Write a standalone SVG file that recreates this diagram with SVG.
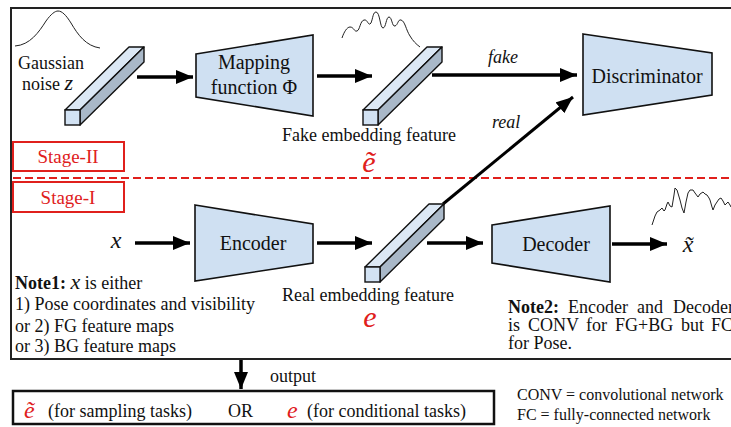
<svg xmlns="http://www.w3.org/2000/svg" xmlns:xlink="http://www.w3.org/1999/xlink" width="731" height="427" viewBox="0 0 731 427" font-family="'Liberation Serif', 'Times New Roman', serif">
<style>
.f{font-family:'Liberation Serif','Times New Roman',serif;fill:#111}
.t18{font-size:18px}
.t19{font-size:19px}
.t20{font-size:20px}
.t16{font-size:16px}
.it{font-style:italic}
.red{fill:#e0201c}
.trap{fill:#cfe0f2;stroke:#111;stroke-width:1.6}
.arr{stroke:#000;stroke-width:3.5;fill:none;marker-end:url(#ah)}
.stage{fill:none;stroke:#e0201c;stroke-width:2}
.wig{fill:none;stroke:#222;stroke-width:1}
</style>
<defs>
<marker id="ah" markerUnits="userSpaceOnUse" markerWidth="17" markerHeight="14" refX="17" refY="7" orient="auto">
<path d="M0,0 L17,7 L0,14 z" fill="#000"/>
</marker>
<g id="bar">
<polygon points="0,0 64,-63 79,-63 15,0" fill="#dce8f5" stroke="#111" stroke-width="1.4" stroke-linejoin="round"/>
<polygon points="15,0 79,-63 79,-48 15,15" fill="#a9b8c8" stroke="#111" stroke-width="1.4" stroke-linejoin="round"/>
<rect x="0" y="0" width="15" height="15" fill="#d2e2f3" stroke="#111" stroke-width="1.4"/>
</g>
</defs>
<rect width="731" height="427" fill="#fff"/>

<!-- outer frame -->
<path d="M731,8 H11 V359 H731" fill="none" stroke="#222" stroke-width="2"/>

<!-- stage separators -->
<g id="stages">
<rect class="stage" x="13" y="142" width="111" height="29"/>
<text class="f t19 red" x="68" y="163" text-anchor="middle">Stage-II</text>
<line x1="13" y1="178" x2="731" y2="178" stroke="#e0201c" stroke-width="2" stroke-dasharray="8,4"/>
<rect class="stage" x="13" y="182" width="111" height="30"/>
<text class="f t19 red" x="68" y="204" text-anchor="middle">Stage-I</text>
</g>

<!-- connectors -->
<g id="connectors">
<line class="arr" x1="137" y1="77" x2="193" y2="77"/>
<line class="arr" x1="317" y1="76" x2="372" y2="76"/>
<line class="arr" x1="432" y1="75" x2="577" y2="75"/>
<line class="arr" x1="443" y1="204" x2="573" y2="97" style="stroke-width:3"/>
<line class="arr" x1="135" y1="243" x2="190" y2="243"/>
<line class="arr" x1="317" y1="243" x2="372" y2="243"/>
<line class="arr" x1="427" y1="243" x2="483" y2="243"/>
<line class="arr" x1="612" y1="244" x2="667" y2="244"/>
<line class="arr" x1="241" y1="360" x2="241" y2="389"/>
<text class="f t18 it" x="488" y="63">fake</text>
<text class="f t18 it" x="492" y="128">real</text>
<text class="f t18" x="270" y="382">output</text>
</g>

<!-- noise input -->
<g id="noise">
<path class="wig" d="M15,46 C30,45 39,32 46,21 C51,14 55,11 58,11 C62,11 66,15 71,23 C78,35 86,46 100,48"/>
<text class="f t18" x="18" y="69">Gaussian</text>
<text class="f t18" x="22" y="90">noise <tspan class="it" style="font-size:22px">z</tspan></text>
<use xlink:href="#bar" x="65" y="110"/>
</g>

<g id="mapping">
<polygon class="trap" points="196,54 313,35 313,116 196,97"/>
<text class="f t20" x="254" y="69" text-anchor="middle">Mapping</text>
<text class="f t20" x="254" y="94" text-anchor="middle">function Φ</text>
</g>

<g id="fake-embedding">
<path class="wig" d="M342,38 C344,32 347,27 350,27 C354,27 354,32 357,31 C360,30 360,21 364,20 C368,19 368,27 371,23 C373,18 373,12 376,12 C380,12 380,28 383,28 C386,28 386,17 389,17 C392,17 392,27 395,26 C398,25 398,19 401,20 C405,21 406,30 410,36 C413,41 416,44 420,47"/>
<use xlink:href="#bar" x="363" y="110"/>
<text class="f t18" x="369" y="141" text-anchor="middle">Fake embedding feature</text>
<text class="f it red" x="369" y="172" text-anchor="middle" style="font-size:30px">ẽ</text>
</g>

<g id="discriminator">
<polygon class="trap" points="583,34 712,53 712,95 583,115"/>
<text class="f t20" x="647" y="83" text-anchor="middle">Discriminator</text>
</g>

<g id="x-input">
<text class="f it" x="116" y="248" text-anchor="middle" style="font-size:24px">x</text>
</g>

<g id="encoder">
<polygon class="trap" points="195,205 313,224 313,263 195,281"/>
<text class="f t20" x="253" y="250" text-anchor="middle">Encoder</text>
</g>

<g id="real-embedding">
<use xlink:href="#bar" x="365" y="267"/>
<text class="f t18" x="368" y="301" text-anchor="middle">Real embedding feature</text>
<text class="f it red" x="370" y="327" text-anchor="middle" style="font-size:30px">e</text>
</g>

<g id="decoder">
<polygon class="trap" points="492,225 610,206 610,282 492,263"/>
<text class="f t20" x="556" y="251" text-anchor="middle">Decoder</text>
</g>

<g id="x-output">
<path class="wig" d="M652,225 L655,216 L657,212 L660,210 L662,208 L664,211 L665,210 L667,204 L668,202 L670,206 L672,207 L674,195 L675,188 L677,190 L680,200 L682,208 L684,213 L686,202 L688,193 L690,190 L693,190 L695,193 L698,197 L700,194 L703,192 L705,194 L707,195 L709,198 L710,200 L712,207 L713,210 L715,205 L717,202 L719,199 L721,198 L723,201 L725,205 L727,203 L728,202 L730,205 L731,207"/>
<text class="f it" x="688" y="252" text-anchor="middle" style="font-size:24px">x̃</text>
</g>

<g id="note1">
<text class="f t18" x="15" y="289"><tspan font-weight="bold">Note1:</tspan> <tspan class="it" style="font-size:22px">x</tspan> is either</text>
<text class="f t18" x="15" y="310">1) Pose coordinates and visibility</text>
<text class="f t18" x="15" y="332">or 2) FG feature maps</text>
<text class="f t18" x="15" y="352">or 3) BG feature maps</text>
</g>

<g id="note2">
<text class="f t18" y="313"><tspan x="508" font-weight="bold">Note2:</tspan><tspan x="568">Encoder</tspan><tspan x="637">and</tspan><tspan x="673">Decoder</tspan></text>
<text class="f t18" y="331"><tspan x="508">is</tspan><tspan x="528">CONV</tspan><tspan x="586">for</tspan><tspan x="615">FG+BG</tspan><tspan x="681">but</tspan><tspan x="711">FC</tspan></text>
<text class="f t18" x="508" y="349">for Pose.</text>
</g>

<g id="output-box">
<rect x="13" y="391" width="481" height="33" fill="none" stroke="#111" stroke-width="2.5"/>
<text class="f it red" x="24" y="418" style="font-size:24px">ẽ</text>
<text class="f t18" x="48" y="417">(for sampling tasks)</text>
<text class="f t18" x="228" y="417">OR</text>
<text class="f it red" x="287" y="418" style="font-size:24px">e</text>
<text class="f t18" x="307" y="417">(for conditional tasks)</text>
</g>

<g id="legend">
<text class="f t16" x="517" y="400">CONV = convolutional network</text>
<text class="f t16" x="517" y="420">FC = fully-connected network</text>
</g>
</svg>
